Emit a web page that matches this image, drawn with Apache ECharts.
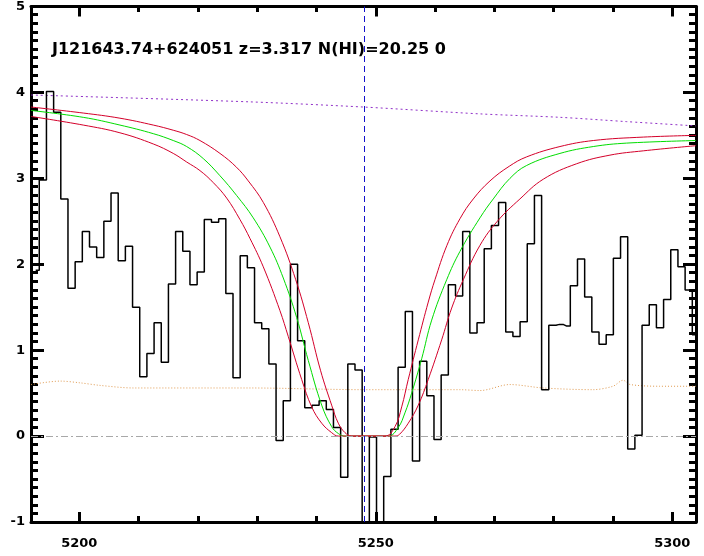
<!DOCTYPE html>
<html>
<head>
<meta charset="utf-8">
<script src="https://cdn.jsdelivr.net/npm/echarts@6/dist/echarts.min.js"></script>
<style>html,body{margin:0;padding:0;background:#fff;}#c{width:704px;height:556px;}</style>
</head>
<body>
<div id="c"></div>
<script>
// ---- data ----
const titleText = 'J121643.74+624051 z=3.317 N(HI)=20.25 0';
const xMin = 5191.86, xMax = 5304.0;
const yMin = -1, yMax = 5;
const xMajorTicks = [5200, 5250, 5300];
const xMinorTicks = [5200, 5210, 5220, 5230, 5240, 5250, 5260, 5270, 5280, 5290, 5300];
const yMajorTicks = [-1, 0, 1, 2, 3, 4, 5];
const lineCenter = 5248.0;

// flux histogram: bin centres (Angstrom) and values
const binCenters = [5192.65, 5193.86, 5195.07, 5196.28, 5197.49, 5198.70, 5199.91, 5201.12, 5202.33, 5203.54,
  5204.75, 5205.96, 5207.17, 5208.38, 5209.59, 5210.80, 5212.01, 5213.22, 5214.43, 5215.64,
  5216.85, 5218.06, 5219.27, 5220.48, 5221.69, 5222.90, 5224.11, 5225.32, 5226.53, 5227.74,
  5228.95, 5230.16, 5231.37, 5232.58, 5233.79, 5235.00, 5236.21, 5237.42, 5238.63, 5239.84,
  5241.05, 5242.26, 5243.47, 5244.68, 5245.89, 5247.10, 5248.31, 5249.52, 5250.73, 5251.94,
  5253.16, 5254.37, 5255.58, 5256.79, 5258.00, 5259.21, 5260.42, 5261.63, 5262.84, 5264.05,
  5265.26, 5266.47, 5267.68, 5268.89, 5270.10, 5271.31, 5272.52, 5273.73, 5274.94, 5276.15,
  5277.36, 5278.57, 5279.78, 5280.99, 5282.20, 5283.41, 5284.62, 5285.83, 5287.04, 5288.25,
  5289.46, 5290.67, 5291.88, 5293.09, 5294.30, 5295.51, 5296.72, 5297.93, 5299.14, 5300.35,
  5301.56, 5302.77, 5303.98];
const fluxValues = [1.93, 2.98, 4.01, 3.77, 2.76, 1.72, 2.03, 2.38, 2.20, 2.08,
  2.50, 2.83, 2.04, 2.21, 1.50, 0.69, 0.96, 1.32, 0.86, 1.77,
  2.38, 2.15, 1.76, 1.91, 2.52, 2.49, 2.53, 1.66, 0.68, 2.10,
  1.96, 1.32, 1.25, 0.84, -0.05, 0.41, 2.00, 1.11, 0.33, 0.36,
  0.41, 0.31, 0.10, -0.48, 0.84, 0.77, -1.6, -0.01, -1.6, -0.47,
  0.08, 0.80, 1.45, -0.29, 0.87, 0.47, -0.04, 0.71, 1.76, 1.63,
  2.38, 1.20, 1.32, 2.18, 2.45, 2.72, 1.21, 1.16, 1.33, 2.24,
  2.80, 0.54, 1.29, 1.30, 1.28, 1.75, 2.06, 1.62, 1.21, 1.07,
  1.18, 2.07, 2.32, -0.15, 0.01, 1.29, 1.53, 1.26, 1.59, 2.17,
  1.97, 1.70, 1.18];

// model (green) and its upper / lower bounds (red)
const modelFit = [[5191.86, 3.79], [5200.67, 3.71], [5206.86, 3.62], [5212.48, 3.52], [5215.85, 3.44],
  [5218.11, 3.37], [5220.91, 3.23], [5223.73, 3.03], [5226.54, 2.80],
  [5229.34, 2.54], [5232.16, 2.20], [5234.40, 1.84], [5236.66, 1.38], [5238.62, 0.88],
  [5240.88, 0.36], [5242.56, 0.11], [5243.68, 0.03], [5244.81, 0.0], [5252.11, 0.0],
  [5253.79, 0.10], [5254.92, 0.27], [5256.05, 0.50], [5257.74, 0.90],
  [5259.43, 1.35], [5261.96, 1.82], [5264.20, 2.15], [5267.57, 2.54], [5269.81, 2.76],
  [5272.63, 3.00], [5275.45, 3.15], [5281.06, 3.29], [5286.68, 3.37], [5292.31, 3.41],
  [5303.99, 3.44]];
const upperFit = [[5191.86, 3.83], [5200.67, 3.76], [5206.86, 3.70], [5212.48, 3.62],
  [5215.85, 3.56], [5218.11, 3.51], [5220.35, 3.44], [5223.73, 3.29],
  [5226.50, 3.13], [5228.50, 2.97], [5231.03, 2.72], [5233.84, 2.32], [5236.50, 1.82],
  [5238.62, 1.32], [5240.70, 0.76], [5242.56, 0.36], [5243.68, 0.15], [5244.81, 0.04],
  [5245.94, 0.0], [5251.55, 0.0], [5253.24, 0.11], [5254.37, 0.34], [5255.48, 0.66],
  [5257.17, 1.12], [5258.85, 1.56], [5259.98, 1.82], [5262.00, 2.22], [5264.20, 2.53],
  [5266.44, 2.76], [5269.26, 2.97], [5272.50, 3.14], [5275.45, 3.25], [5281.06, 3.37], [5286.68, 3.44],
  [5295.11, 3.48], [5303.99, 3.50]];
const lowerFit = [[5191.86, 3.72], [5200.67, 3.62], [5206.86, 3.53], [5212.48, 3.40],
  [5215.85, 3.29], [5218.11, 3.19], [5220.35, 3.09], [5222.60, 2.95], [5224.86, 2.77],
  [5227.10, 2.52], [5228.79, 2.30], [5231.03, 1.97], [5233.84, 1.46], [5235.24, 1.16],
  [5237.50, 0.66], [5239.19, 0.34], [5240.88, 0.15], [5242.56, 0.04], [5243.68, 0.0],
  [5253.24, 0.0], [5254.00, 0.02], [5255.48, 0.15], [5257.17, 0.36], [5258.85, 0.66],
  [5261.11, 1.12], [5262.80, 1.49], [5264.76, 1.82], [5267.57, 2.22], [5270.50, 2.50],
  [5274.31, 2.76], [5278.25, 2.99], [5283.88, 3.17], [5289.49, 3.27], [5295.11, 3.32],
  [5303.99, 3.38]];

// continuum (purple dotted) and error (orange dotted)
const continuum = [[5191.86, 3.97], [5228.80, 3.89], [5247.90, 3.83], [5267.60, 3.75],
  [5281.10, 3.71], [5292.30, 3.66], [5303.99, 3.61]];
const errorSpec = [[5191.86, 0.60], [5196.80, 0.64], [5200.10, 0.62], [5203.50, 0.59],
  [5209.10, 0.56], [5228.80, 0.56], [5248.00, 0.54], [5264.20, 0.54], [5267.60, 0.53],
  [5272.60, 0.60], [5278.20, 0.56], [5286.60, 0.54], [5290.00, 0.58], [5291.70, 0.65],
  [5292.90, 0.60], [5297.90, 0.58], [5303.99, 0.58]];

// ---- chart ----
const yMinorTicks = [];
for (let k = 0; k <= 60; k++) yMinorTicks.push(+(yMin + k * 0.1).toFixed(1));

const FONT = 'DejaVu Sans';
const black = '#000';
const gridRect = {left: 31, right: 8, top: 6, bottom: 34, containLabel: false};

function xAx(gridIndex, position, ticks, len, showLine, showLabel) {
  return {
    type: 'value', gridIndex, position, min: xMin, max: xMax,
    axisLine: {show: showLine, onZero: false, lineStyle: {color: black, width: 3}},
    axisTick: {show: true, inside: true, length: len, customValues: ticks, lineStyle: {color: black, width: 3}},
    axisLabel: {show: showLabel, customValues: xMajorTicks, formatter: v => String(Math.round(v)),
      color: black, fontFamily: FONT, fontWeight: 'bold', fontSize: 13, margin: 15},
    splitLine: {show: false}
  };
}
function yAx(gridIndex, position, ticks, len, showLine, showLabel) {
  return {
    type: 'value', gridIndex, position, min: yMin, max: yMax,
    axisLine: {show: showLine, onZero: false, lineStyle: {color: black, width: 3}},
    axisTick: {show: true, inside: true, length: len, customValues: ticks, lineStyle: {color: black, width: 3}},
    axisLabel: {show: showLabel, customValues: yMajorTicks, formatter: v => String(v),
      color: black, fontFamily: FONT, fontWeight: 'bold', fontSize: 13, margin: 6},
    splitLine: {show: false}
  };
}

const curve = (data, color) => ({
  type: 'line', xAxisIndex: 0, yAxisIndex: 0, data, showSymbol: false, silent: true,
  smooth: 0.4, lineStyle: {color, width: 1}, z: 4
});

const chart = echarts.init(document.getElementById('c'), null, {renderer: 'canvas'});
chart.setOption({
  animation: false,
  backgroundColor: '#fff',
  title: {
    text: titleText, left: 52, top: 42, padding: 0,
    textStyle: {fontFamily: FONT, fontWeight: 'bold', fontSize: 16, color: black}
  },
  grid: [Object.assign({}, gridRect), Object.assign({}, gridRect)],
  xAxis: [
    xAx(0, 'bottom', xMajorTicks, 10, true, true),
    xAx(0, 'top', xMajorTicks, 10, true, false),
    xAx(1, 'bottom', xMinorTicks, 6, false, false),
    xAx(1, 'top', xMinorTicks, 6, false, false)
  ],
  yAxis: [
    yAx(0, 'left', yMajorTicks, 13, true, true),
    yAx(0, 'right', yMajorTicks, 13, true, false),
    yAx(1, 'left', yMinorTicks, 7, false, false),
    yAx(1, 'right', yMinorTicks, 7, false, false)
  ],
  series: [
    {
      type: 'line', xAxisIndex: 0, yAxisIndex: 0, data: errorSpec, showSymbol: false, silent: true,
      smooth: 0.3, lineStyle: {color: '#e09a50', width: 1, type: [1, 2]}, z: 2,
      markLine: {
        silent: true, symbol: 'none', label: {show: false},
        lineStyle: {color: '#a8a8a8', width: 1, type: [7, 3, 2, 3]},
        data: [{yAxis: 0}]
      }
    },
    {
      type: 'line', xAxisIndex: 0, yAxisIndex: 0, data: continuum, showSymbol: false, silent: true,
      smooth: 0.3, lineStyle: {color: '#9030c8', width: 1, type: [2, 3]}, z: 2
    },
    {
      type: 'line', xAxisIndex: 0, yAxisIndex: 0, step: 'middle', showSymbol: false, silent: true,
      data: binCenters.map((x, i) => [x, fluxValues[i]]),
      lineStyle: {color: black, width: 1.5}, z: 3
    },
    curve(modelFit, '#00dd00'),
    curve(upperFit, '#d4002a'),
    Object.assign(curve(lowerFit, '#d4002a'), {
      markLine: {
        silent: true, symbol: 'none', label: {show: false},
        lineStyle: {color: '#1010cc', width: 1, type: [6, 4]},
        data: [{xAxis: lineCenter}]
      }
    })
  ]
});
</script>
</body>
</html>
